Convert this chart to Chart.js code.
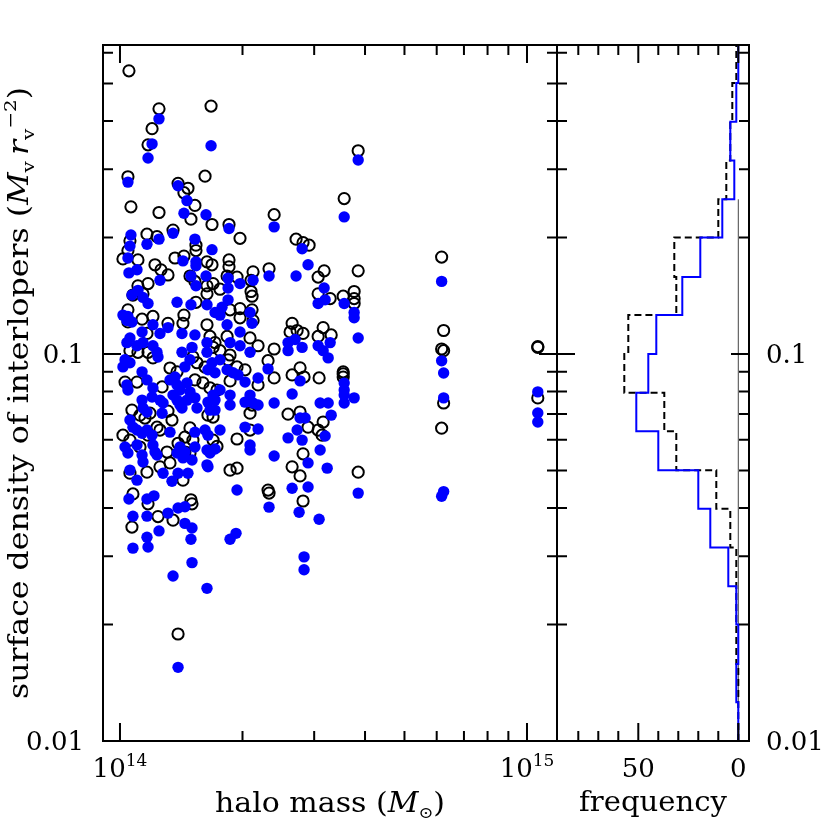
<!DOCTYPE html>
<html>
<head>
<meta charset="utf-8">
<script src="https://cdn.jsdelivr.net/npm/chart.js@4.4.1/dist/chart.umd.min.js"></script>
<style>
html, body { margin: 0; padding: 0; background: #fff; }
#wrap { position: relative; width: 830px; height: 830px; }
canvas { position: absolute; left: 0; top: 0; }
</style>
</head>
<body>
<div id="wrap">
  <canvas id="scatter" width="830" height="830"></canvas>
  <canvas id="hist" width="830" height="830"></canvas>
</div>
<script>
// halo mass in units of 1e14 Msun, surface density in Mv rv^-2
const blackMass = [
  1.052,1.247,1.199,1.172,1.674,1.046,1.618,1.389,1.469,1.436,
  1.064,1.247,1.528,1.494,1.683,2.392,1.853,1.972,1.165,1.233,
  1.350,1.058,1.046,1.017,1.107,1.219,1.261,1.312,1.365,1.436,
  1.537,1.537,1.636,1.683,1.853,1.853,1.833,2.123,2.099,2.324,
  2.708,2.817,2.915,3.174,3.068,1.486,1.528,1.636,1.693,1.172,
  1.107,1.761,1.939,2.099,3.068,
  3.848,3.555,6.17,3.848,3.535,3.761,3.761,3.761,3.284,3.303,6.24,
  3.535,3.535,3.535,6.17,6.24,10.63,10.63,6.24,10.63,6.17,3.848,
  1.076,1.139,1.537,1.636,1.046,1.133,1.205,1.436,
  1.046,1.165,1.312,1.428,1.636,1.058,1.107,1.172,1.205,1.664,
  1.693,1.511,1.546,1.618,1.327,1.381,1.029,1.101,1.269,1.528,
  1.599,1.664,1.731,1.070,1.120,1.185,1.152,1.312,1.342,1.645,
  1.693,1.233,1.254,1.486,1.444,1.511,1.017,1.058,1.172,1.389,
  1.120,1.305,1.327,1.444,1.486,1.058,1.165,1.254,1.428,1.693,
  1.731,
  2.111,1.864,1.972,1.972,2.111,2.123,1.833,2.087,2.184,1.712,
  1.761,1.864,1.843,2.648,2.618,2.724,2.817,3.156,3.068,2.392,
  2.311,2.029,1.939,1.864,2.184,2.392,2.648,2.770,2.833,3.085,
  2.087,2.111,2.588,2.770,2.898,3.068,3.138,3.156,2.087,1.939,
  2.817,1.864,1.939,2.648,2.770,2.311,
  1.076,1.172,1.494,1.503,1.240,1.350,1.070,2.324,2.817,
  1.389
];
const blackDens = [
  0.539,0.430,0.382,0.347,0.437,0.287,0.288,0.276,0.268,0.261,
  0.240,0.232,0.242,0.223,0.216,0.229,0.216,0.199,0.204,0.201,
  0.209,0.196,0.185,0.176,0.175,0.170,0.165,0.160,0.177,0.179,
  0.191,0.185,0.173,0.170,0.175,0.168,0.159,0.163,0.155,0.166,
  0.198,0.194,0.191,0.164,0.158,0.159,0.154,0.150,0.152,0.152,
  0.150,0.147,0.158,0.145,0.143,
  0.335,0.252,0.178,0.164,0.141,0.145,0.139,0.135,0.139,0.112,0.115,
  0.0899,0.0888,0.0872,0.103,0.102,0.1045,0.104,0.0747,0.0770,0.0643,0.0495,
  0.142,0.143,0.136,0.143,0.130,0.123,0.125,0.126,
  0.121,0.113,0.120,0.120,0.119,0.102,0.101,0.101,0.0977,0.111,
  0.104,0.0983,0.0949,0.0925,0.0920,0.0899,0.0846,0.0846,0.0822,0.0857,
  0.0842,0.0817,0.0807,0.0716,0.0695,0.0703,0.0683,0.0712,0.0675,0.0695,
  0.0687,0.0647,0.0636,0.0644,0.0610,0.0599,0.0617,0.0599,0.0617,0.0588,
  0.0575,0.0558,0.0523,0.0558,0.0555,0.0492,0.0495,0.0511,0.0472,0.0599,
  0.0577,
  0.141,0.130,0.131,0.124,0.130,0.122,0.111,0.110,0.105,0.107,
  0.102,0.0994,0.0966,0.120,0.114,0.115,0.113,0.117,0.111,0.103,
  0.0961,0.0910,0.0926,0.0852,0.0832,0.0867,0.0883,0.0921,0.0872,0.0867,
  0.0703,0.0738,0.0699,0.0708,0.0647,0.0636,0.0617,0.0667,0.0636,0.0603,
  0.0552,0.0501,0.0507,0.0511,0.0484,0.0445,
  0.0435,0.0410,0.0420,0.0410,0.0380,0.0372,0.0357,0.0437,0.0417,
  0.0189
];
const blueMass = [
  1.247,1.199,1.172,1.674,1.046,1.389,1.461,1.436,1.627,1.853,
  2.392,1.064,1.058,1.165,1.247,1.350,1.528,1.683,1.046,1.101,
  1.052,1.428,1.537,1.537,1.494,1.627,1.254,1.537,1.843,1.843,
  1.972,2.123,2.324,2.708,2.802,2.898,3.174,1.107,
  1.070,1.139,1.172,1.381,1.494,1.636,1.017,1.046,
  1.040,1.070,1.205,1.312,1.254,1.133,1.058,1.040,1.101,1.139,
  1.205,1.233,1.240,1.029,1.017,1.058,1.420,1.528,1.503,1.420,
  1.486,1.444,1.636,1.636,1.683,1.645,1.133,1.165,1.040,1.046,
  1.205,1.199,1.254,1.276,1.133,1.139,1.165,1.327,1.365,1.381,
  1.404,1.350,1.381,1.404,1.461,1.486,1.461,1.420,1.528,1.546,
  1.645,1.664,1.693,1.269,1.058,1.076,1.101,1.133,1.165,1.199,
  1.327,1.528,1.618,1.645,1.029,1.046,1.101,1.205,1.219,1.233,
  1.133,1.139,1.404,1.381,1.444,1.428,1.503,1.528,1.636,1.664,
  1.636,1.058,1.101,1.276,1.342,1.389,1.469,1.645,
  1.843,1.781,1.712,1.761,2.087,2.111,1.833,1.972,1.864,1.972,
  2.087,3.068,3.192,2.588,2.693,2.802,2.588,3.068,3.156,3.247,
  1.761,1.833,1.896,1.950,1.712,2.311,2.029,2.184,2.770,1.761,
  1.864,1.712,2.029,2.087,2.123,2.184,1.864,2.392,2.648,3.103,
  3.247,1.712,1.761,2.029,2.184,2.770,2.850,2.724,2.588,2.802,
  3.192,2.087,2.087,2.392,3.103,2.898,3.229,1.712,2.648,2.898,
  1.939,
  3.848,3.555,6.17,3.555,3.761,3.761,3.848,3.284,6.17,6.24,
  3.555,3.555,3.555,3.555,3.761,6.24,10.63,10.63,10.63,3.303,
  3.848,6.17,6.24,
  1.052,1.165,1.212,1.389,1.444,1.076,1.165,1.312,1.444,1.503,
  1.247,2.324,2.755,3.085,1.076,1.165,1.172,1.494,1.503,1.350,
  1.636,1.864,1.928,2.833,2.833,1.389
];
const blueDens = [
  0.405,0.349,0.321,0.345,0.278,0.272,0.249,0.231,0.229,0.211,
  0.213,0.203,0.190,0.192,0.198,0.205,0.198,0.186,0.177,0.165,
  0.162,0.174,0.173,0.169,0.159,0.159,0.155,0.150,0.157,0.148,
  0.152,0.155,0.159,0.159,0.187,0.170,0.148,0.146,
  0.142,0.140,0.135,0.136,0.134,0.134,0.126,0.125,
  0.122,0.121,0.119,0.117,0.113,0.114,0.110,0.107,0.105,0.107,
  0.105,0.101,0.0982,0.0966,0.0926,0.0949,0.113,0.112,0.104,0.101,
  0.0966,0.0926,0.107,0.101,0.0949,0.0910,0.0899,0.0857,0.0832,0.0807,
  0.0817,0.0774,0.0760,0.0747,0.0760,0.0725,0.0708,0.0857,0.0872,0.0832,
  0.0807,0.0783,0.0760,0.0738,0.0842,0.0798,0.0760,0.0725,0.0770,0.0725,
  0.0751,0.0716,0.0783,0.0703,0.0675,0.0647,0.0636,0.0624,0.0636,0.0617,
  0.0628,0.0628,0.0636,0.0617,0.0575,0.0555,0.0582,0.0582,0.0558,0.0548,
  0.0548,0.0526,0.0575,0.0555,0.0558,0.0539,0.0532,0.0575,0.0565,0.0555,
  0.0517,0.0501,0.0472,0.0492,0.0469,0.0492,0.0492,0.0511,
  0.138,0.132,0.128,0.126,0.128,0.120,0.119,0.114,0.107,0.105,
  0.101,0.135,0.138,0.107,0.109,0.104,0.102,0.105,0.102,0.0977,
  0.0966,0.0910,0.0894,0.0883,0.0894,0.0915,0.0846,0.0867,0.0852,0.0807,
  0.0783,0.0760,0.0751,0.0783,0.0747,0.0738,0.0738,0.0747,0.0788,0.0747,
  0.0747,0.0716,0.0636,0.0647,0.0640,0.0683,0.0683,0.0636,0.0607,0.0599,
  0.0614,0.0582,0.0565,0.0545,0.0565,0.0523,0.0507,0.0568,0.0450,0.0453,
  0.0445,
  0.317,0.226,0.154,0.135,0.128,0.124,0.110,0.107,0.0960,0.0893,
  0.0841,0.0807,0.0783,0.0747,0.0770,0.0770,0.0798,0.0704,0.0667,0.0695,
  0.0437,0.0429,0.0441,
  0.0422,0.0422,0.0430,0.0400,0.0403,0.0381,0.0381,0.0388,0.0365,0.0355,
  0.0349,0.0402,0.0390,0.0374,0.0315,0.0336,0.0317,0.0332,0.0289,0.0267,
  0.0248,0.0332,0.0344,0.0299,0.0277,0.0155
];

// histogram bins (0.1 dex), bottom to top
const binEdges = [0.01,0.0126,0.0158,0.02,0.0251,0.0316,0.0398,0.0501,0.0631,0.0794,
                  0.1,0.126,0.158,0.2,0.251,0.316,0.398,0.501,0.631];
const histBlue  = [0,1,0,1,5,14,20,40,51,45,41,28,19,8,2,4,1,0];
const histBlack = [0,0,1,1,1,4,11,31,37,57,55,31,32,10,6,4,3,1];

// ticks
const massMajor = [1, 10];
const massLabels = ['14', '15'];   // exponents of 10
const massMinor = [2, 3, 4, 5, 6, 7, 8, 9];
const densMajor = [0.01, 0.1];
const densLabels = ['0.01', '0.1'];
const densMinor = [0.02,0.03,0.04,0.05,0.06,0.07,0.08,0.09,0.2,0.3,0.4,0.5,0.6];
const freqMajor = [0, 50];
const freqLabels = ['0', '50'];
const freqMinor = [10, 20, 30, 40, 60, 70, 80];

const FONT = '"DejaVu Serif", "Liberation Serif", serif';
const MAJ = 18, MIN = 10;

function toPoints(xs, ys) {
    return xs.map((x, i) => ({ x: x, y: ys[i] }));
}

// step outline of a horizontal histogram
function histPoints(counts) {
    const pts = [];
    counts.forEach((c, i) => {
        pts.push({ x: c, y: binEdges[i] });
        pts.push({ x: c, y: binEdges[i + 1] });
    });
    return pts;
}

function richWidth(ctx, segs) {
    let w = 0;
    segs.forEach(s => { ctx.font = s.font; w += ctx.measureText(s.text).width; });
    return w;
}
// draws segments centred on cx, stretched sideways to a given width (wide plot font look)
function drawRich(ctx, segs, cx, y, width) {
    const w = richWidth(ctx, segs);
    const sx = width ? width / w : 1;
    ctx.save();
    ctx.translate(cx - w * sx / 2, y);
    ctx.scale(sx, 1);
    let x = 0;
    segs.forEach(s => {
        ctx.font = s.font;
        ctx.fillText(s.text, x, s.dy || 0);
        x += ctx.measureText(s.text).width;
    });
    ctx.restore();
}

function drawTicks(chart, xMaj, xMin, yMaj, yMin) {
    const { ctx, chartArea: a } = chart;
    const xs = chart.scales.x, ys = chart.scales.y;
    ctx.beginPath();
    const vx = (v, len) => {
        const p = xs.getPixelForValue(v);
        ctx.moveTo(p, a.bottom); ctx.lineTo(p, a.bottom - len);
        ctx.moveTo(p, a.top); ctx.lineTo(p, a.top + len);
    };
    const vy = (v, len) => {
        const p = ys.getPixelForValue(v);
        ctx.moveTo(a.left, p); ctx.lineTo(a.left + len, p);
        ctx.moveTo(a.right, p); ctx.lineTo(a.right - len, p);
    };
    xMaj.forEach(v => vx(v, MAJ));
    xMin.forEach(v => vx(v, MIN));
    yMaj.forEach(v => vy(v, MAJ));
    yMin.forEach(v => vy(v, MIN));
    ctx.stroke();
    ctx.strokeRect(a.left, a.top, a.right - a.left, a.bottom - a.top);
}

const scatterFrame = {
    id: 'scatterFrame',
    afterDatasetsDraw(chart) {
        const { ctx, chartArea: a } = chart;
        const xs = chart.scales.x, ys = chart.scales.y;
        ctx.save();
        ctx.strokeStyle = '#000';
        ctx.fillStyle = '#000';
        ctx.lineWidth = 2;
        drawTicks(chart, massMajor, massMinor, densMajor, densMinor);

        // y tick labels (left)
        ctx.textAlign = 'right';
        ctx.textBaseline = 'alphabetic';
        ctx.font = '26px ' + FONT;
        densMajor.forEach((v, i) => {
            ctx.fillText(densLabels[i], a.left - 19, ys.getPixelForValue(v) + 9);
        });

        // x tick labels 10^n
        ctx.textAlign = 'left';
        massMajor.forEach((v, i) => {
            drawRich(ctx, [
                { text: '10', font: '26px ' + FONT },
                { text: massLabels[i], font: '17px ' + FONT, dy: -11 }
            ], xs.getPixelForValue(v), a.bottom + 36);
        });

        // x title
        drawRich(ctx, [
            { text: 'halo mass (', font: '27px ' + FONT },
            { text: 'M', font: 'italic 27px ' + FONT },
            { text: '\u2299', font: '16px ' + FONT, dy: 6 },
            { text: ')', font: '27px ' + FONT }
        ], (a.left + a.right) / 2, 812, 230);

        // y title, rotated
        ctx.translate(28, (a.top + a.bottom) / 2);
        ctx.rotate(-Math.PI / 2);
        drawRich(ctx, [
            { text: 'surface density of interlopers (', font: '27px ' + FONT },
            { text: 'M', font: 'italic 27px ' + FONT },
            { text: 'v', font: '17px ' + FONT, dy: 6 },
            { text: ' ', font: '17px ' + FONT },
            { text: 'r', font: 'italic 27px ' + FONT },
            { text: 'v', font: '17px ' + FONT, dy: 6 },
            { text: '\u22122', font: '17px ' + FONT, dy: -12 },
            { text: ')', font: '27px ' + FONT }
        ], 0, 0, 612);
        ctx.restore();
    }
};

const histFrame = {
    id: 'histFrame',
    afterDatasetsDraw(chart) {
        const { ctx, chartArea: a } = chart;
        const xs = chart.scales.x, ys = chart.scales.y;
        ctx.save();
        ctx.strokeStyle = '#000';
        ctx.fillStyle = '#000';
        ctx.lineWidth = 2;
        drawTicks(chart, freqMajor, freqMinor, densMajor, densMinor);

        ctx.font = '26px ' + FONT;
        ctx.textBaseline = 'alphabetic';
        ctx.textAlign = 'left';
        densMajor.forEach((v, i) => {
            ctx.fillText(densLabels[i], a.right + 17, ys.getPixelForValue(v) + 9);
        });
        ctx.textAlign = 'center';
        freqMajor.forEach((v, i) => {
            ctx.fillText(freqLabels[i], xs.getPixelForValue(v), a.bottom + 36);
        });
        ctx.textAlign = 'left';
        drawRich(ctx, [{ text: 'frequency', font: '27px ' + FONT }], (a.left + a.right) / 2, 811, 148);
        ctx.restore();
    }
};

const common = {
    responsive: false,
    animation: false,
    devicePixelRatio: 1,
    events: [],
    plugins: { legend: { display: false }, tooltip: { enabled: false } }
};

new Chart(document.getElementById('scatter'), {
    type: 'scatter',
    data: {
        datasets: [
            {
                label: 'blue',
                data: toPoints(blueMass, blueDens),
                pointRadius: 5.7,
                pointBorderWidth: 0,
                backgroundColor: '#0000ff',
                borderColor: '#0000ff',
                order: 0
            },
            {
                label: 'black',
                data: toPoints(blackMass, blackDens),
                pointRadius: 5.6,
                pointBorderWidth: 2,
                backgroundColor: 'rgba(0,0,0,0)',
                borderColor: '#000',
                order: 1
            }
        ]
    },
    options: Object.assign({}, common, {
        layout: { autoPadding: false, padding: { left: 103, right: 273, top: 45, bottom: 89 } },
        scales: {
            x: { type: 'logarithmic', min: 0.9084, max: 11.85, display: false },
            y: { type: 'logarithmic', min: 0.01, max: 0.6285, display: false }
        }
    }),
    plugins: [scatterFrame]
});

new Chart(document.getElementById('hist'), {
    type: 'scatter',
    data: {
        datasets: [
            {
                label: 'zero',
                data: [{ x: 0, y: binEdges[0] }, { x: 0, y: binEdges[14] }],
                showLine: true, pointRadius: 0,
                borderColor: '#444', borderWidth: 1,
                order: 2
            },
            {
                label: 'black',
                data: histPoints(histBlack),
                showLine: true, pointRadius: 0,
                borderColor: '#000', borderWidth: 2,
                borderDash: [7, 4],
                order: 1
            },
            {
                label: 'blue',
                data: histPoints(histBlue),
                showLine: true, pointRadius: 0,
                borderColor: '#0000ff', borderWidth: 2,
                order: 0
            }
        ]
    },
    options: Object.assign({}, common, {
        layout: { autoPadding: false, padding: { left: 557, right: 81, top: 45, bottom: 89 } },
        scales: {
            x: { type: 'linear', reverse: true, min: -5.35, max: 90.65, display: false },
            y: { type: 'logarithmic', min: 0.01, max: 0.6285, display: false }
        }
    }),
    plugins: [histFrame]
});
</script>
</body>
</html>
